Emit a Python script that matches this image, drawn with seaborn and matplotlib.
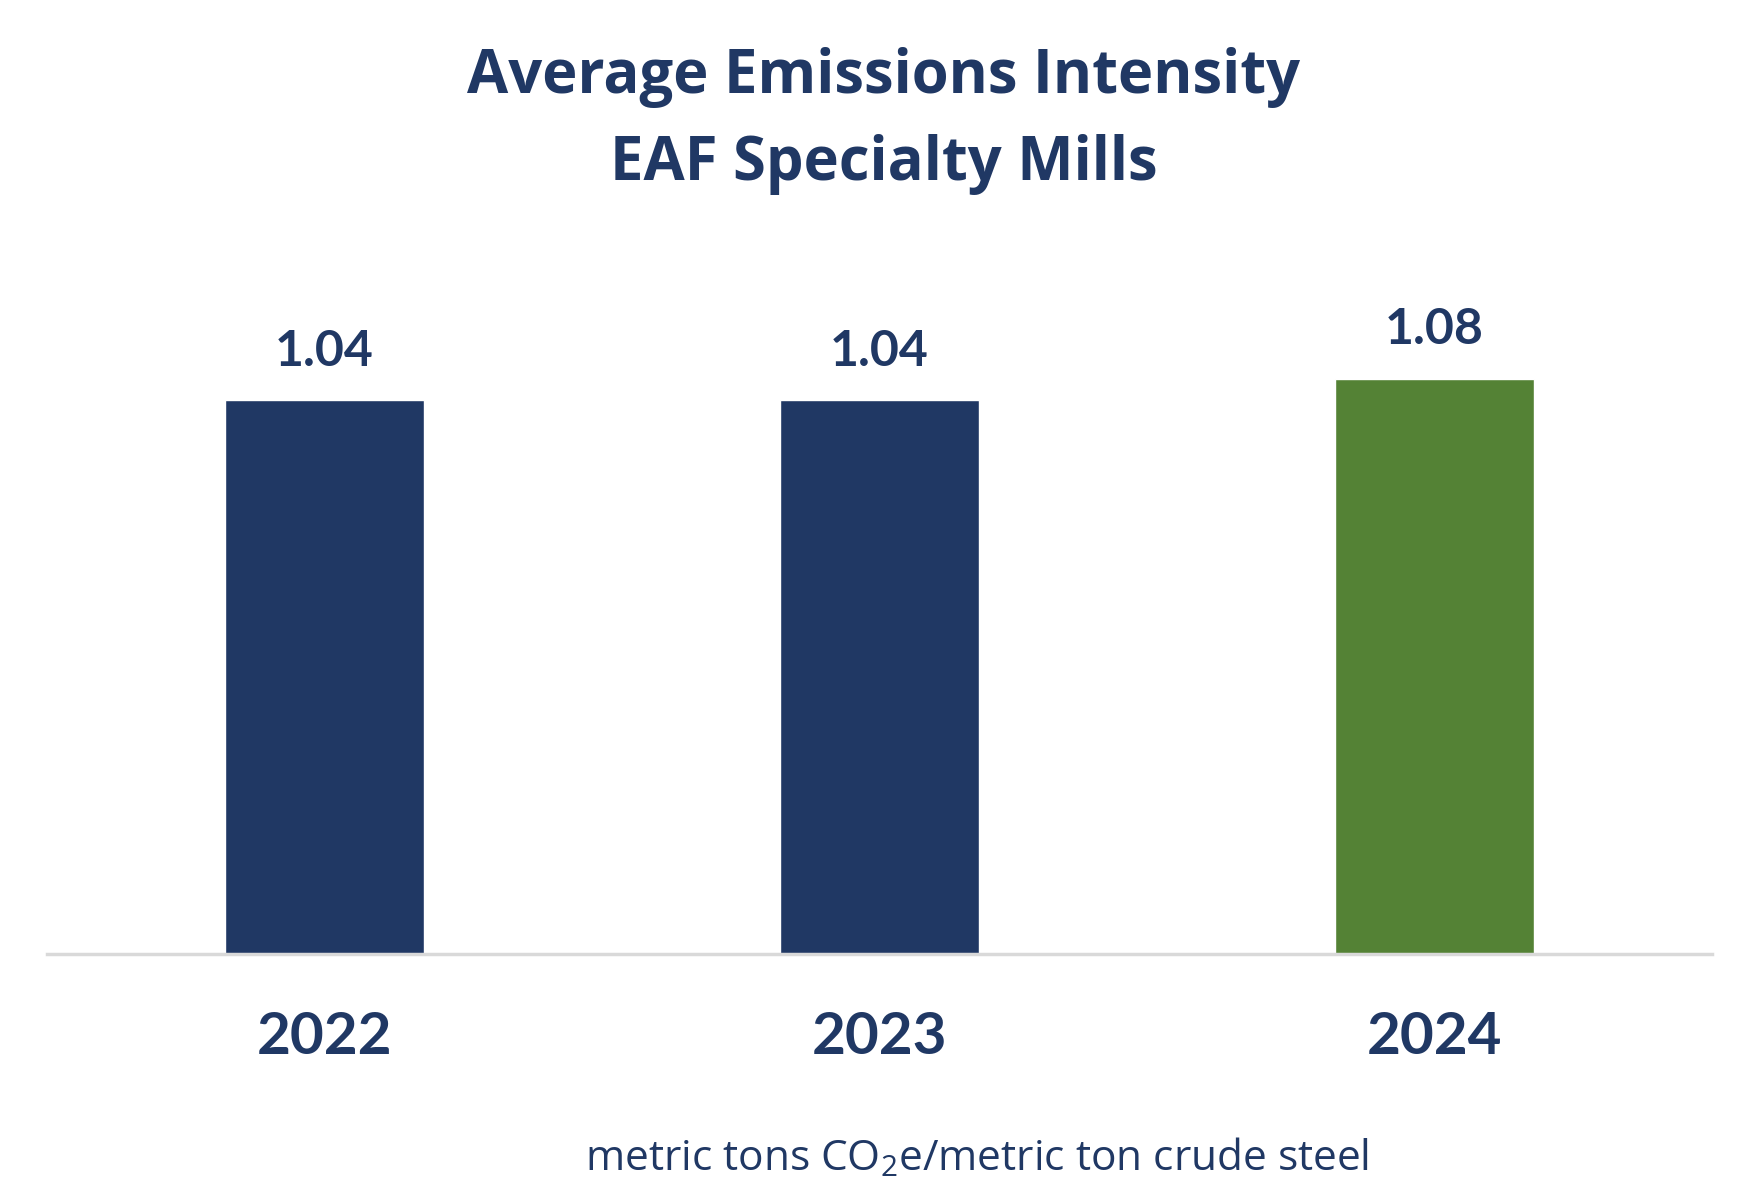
import matplotlib
matplotlib.use("Agg")
import matplotlib.pyplot as plt
import seaborn as sns
import pandas as pd

years = ["2022", "2023", "2024"]
intensity = [1.04, 1.04, 1.08]
bar_colors = ["#203864", "#203864", "#548235"]
title_lines = ["Average Emissions Intensity", "EAF Specialty Mills"]
unit_label = r"metric tons CO$_\mathregular{2}$e/metric ton crude steel"

navy = "#203864"

sns.set_theme(style="white")
plt.rcParams["font.family"] = ["Lato", "DejaVu Sans"]
plt.rcParams["mathtext.fontset"] = "custom"
plt.rcParams["mathtext.rm"] = "Open Sans"

df = pd.DataFrame({"year": years, "value": intensity})

fig = plt.figure(figsize=(17.6, 11.99), dpi=100)
ax = fig.add_axes([47 / 1760, 245 / 1199, 1665 / 1760, 692 / 1199])

sns.barplot(data=df, x="year", y="value", hue="year", palette=bar_colors,
            width=0.357, saturation=1, legend=False, ax=ax)

# value labels above bars
for i, v in enumerate(intensity):
    ax.annotate(f"{v:.2f}", xy=(i, v), xytext=(0, 25), textcoords="offset points",
                ha="center", va="baseline", fontsize=36, fontweight="bold", color=navy)

ax.set_ylim(0, 1.3)
ax.set_xlim(-0.5, 2.5)
ax.set_xlabel("")
ax.set_ylabel("")
ax.set_yticks([])
sns.despine(ax=ax, left=True, top=True, right=True)
ax.spines["bottom"].set_color("#D9D9D9")
ax.spines["bottom"].set_linewidth(2.5)
ax.tick_params(axis="x", length=0, pad=41, labelsize=42, labelcolor=navy)
for t in ax.get_xticklabels():
    t.set_fontweight("bold")

title_font = ["Open Sans", "DejaVu Sans"]
fig.text(0.502, 1 - 93 / 1199, title_lines[0], ha="center", va="baseline",
         fontsize=43, fontweight="bold", color=navy, family=title_font)
fig.text(0.502, 1 - 180 / 1199, title_lines[1], ha="center", va="baseline",
         fontsize=43, fontweight="bold", color=navy, family=title_font)

fig.text(585 / 1760, 1 - 1170 / 1199, unit_label, ha="left", va="baseline",
         fontsize=30.5, color=navy, family=title_font)

fig.savefig("out.png", dpi=100, facecolor="white")
